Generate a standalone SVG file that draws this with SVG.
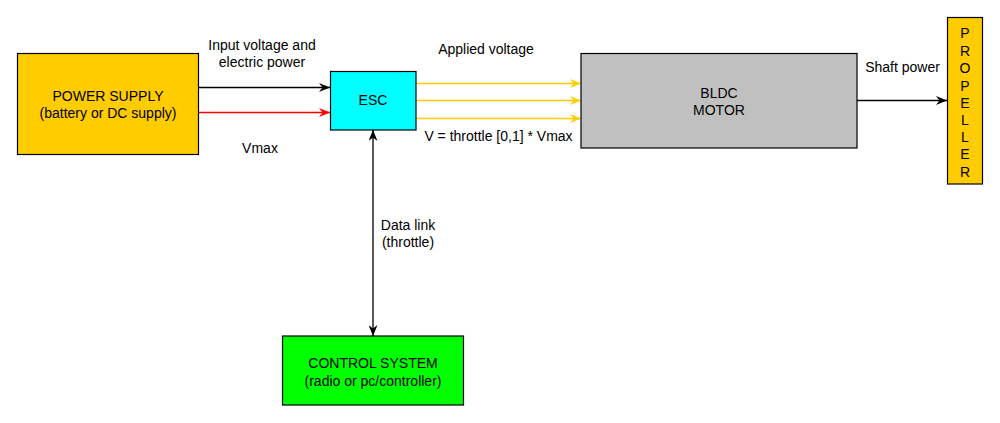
<svg xmlns="http://www.w3.org/2000/svg" width="1000" height="423" viewBox="0 0 1000 423">
<defs>
<style>
text{font-family:"Liberation Sans",Arial,sans-serif;font-size:14px;fill:#000;text-anchor:middle}
.box{stroke:#000;stroke-width:1.2}
.c{fill:none;stroke-width:1.3}
</style>
<marker id="ab" viewBox="0 0 11 9" refX="11" refY="4.5" markerWidth="11" markerHeight="9" markerUnits="userSpaceOnUse" orient="auto-start-reverse"><path d="M0,0 L11,4.5 L0,9 L3.5,4.5 Z" fill="#000"/></marker>
<marker id="ar" viewBox="0 0 11 9" refX="11" refY="4.5" markerWidth="11" markerHeight="9" markerUnits="userSpaceOnUse" orient="auto"><path d="M0,0 L11,4.5 L0,9 L3.5,4.5 Z" fill="#ff0000"/></marker>
<marker id="ay" viewBox="0 0 11 9" refX="11" refY="4.5" markerWidth="11" markerHeight="9" markerUnits="userSpaceOnUse" orient="auto"><path d="M0,0 L11,4.5 L0,9 L3.5,4.5 Z" fill="#ffcc00"/></marker>
</defs>
<rect width="1000" height="423" fill="#fff"/>
<g id="connectors">
<path class="c" d="M198.5,87.5 H330" stroke="#000" marker-end="url(#ab)"/>
<path class="c" d="M198.5,112.5 H330" stroke="#ff0000" marker-end="url(#ar)"/>
<path class="c" d="M416,83.5 H581" stroke="#ffcc00" marker-end="url(#ay)"/>
<path class="c" d="M416,100.5 H581" stroke="#ffcc00" marker-end="url(#ay)"/>
<path class="c" d="M416,118.5 H581" stroke="#ffcc00" marker-end="url(#ay)"/>
<path class="c" d="M857,100.5 H947" stroke="#000" marker-end="url(#ab)"/>
<path class="c" d="M373,130 V336" stroke="#000" marker-start="url(#ab)" marker-end="url(#ab)"/>
<text x="262" y="50">Input voltage and</text>
<text x="262" y="67">electric power</text>
<text x="260" y="153">Vmax</text>
<text x="486" y="54">Applied voltage</text>
<text x="498.5" y="141">V = throttle [0,1] * Vmax</text>
<text x="902.5" y="72">Shaft power</text>
<text x="408" y="229.5">Data link</text>
<text x="408" y="246.5">(throttle)</text>
</g>
<g id="power-supply">
<rect class="box" x="17.5" y="53.5" width="181" height="101" fill="#ffcc00"/>
<text x="108" y="101">POWER SUPPLY</text>
<text x="108" y="118">(battery or DC supply)</text>
</g>
<g id="esc">
<rect class="box" x="330.5" y="71.5" width="85.5" height="58.5" fill="#00ffff"/>
<text x="373" y="105">ESC</text>
</g>
<g id="bldc-motor">
<rect class="box" x="581" y="53.5" width="276" height="94.5" fill="#c0c0c0"/>
<text x="719" y="97.5">BLDC</text>
<text x="719" y="114.5">MOTOR</text>
</g>
<g id="propeller">
<rect class="box" x="947.5" y="17.5" width="35" height="166.5" fill="#ffcc00"/>
<text x="965" y="38">P</text>
<text x="965" y="55.5">R</text>
<text x="965" y="73">O</text>
<text x="965" y="90.5">P</text>
<text x="965" y="107.5">E</text>
<text x="965" y="124.5">L</text>
<text x="965" y="141.5">L</text>
<text x="965" y="159">E</text>
<text x="965" y="176.5">R</text>
</g>
<g id="control-system">
<rect class="box" x="282.5" y="336" width="181" height="69" fill="#00ff00"/>
<text x="373" y="368">CONTROL SYSTEM</text>
<text x="373" y="385.5">(radio or pc/controller)</text>
</g>
</svg>
